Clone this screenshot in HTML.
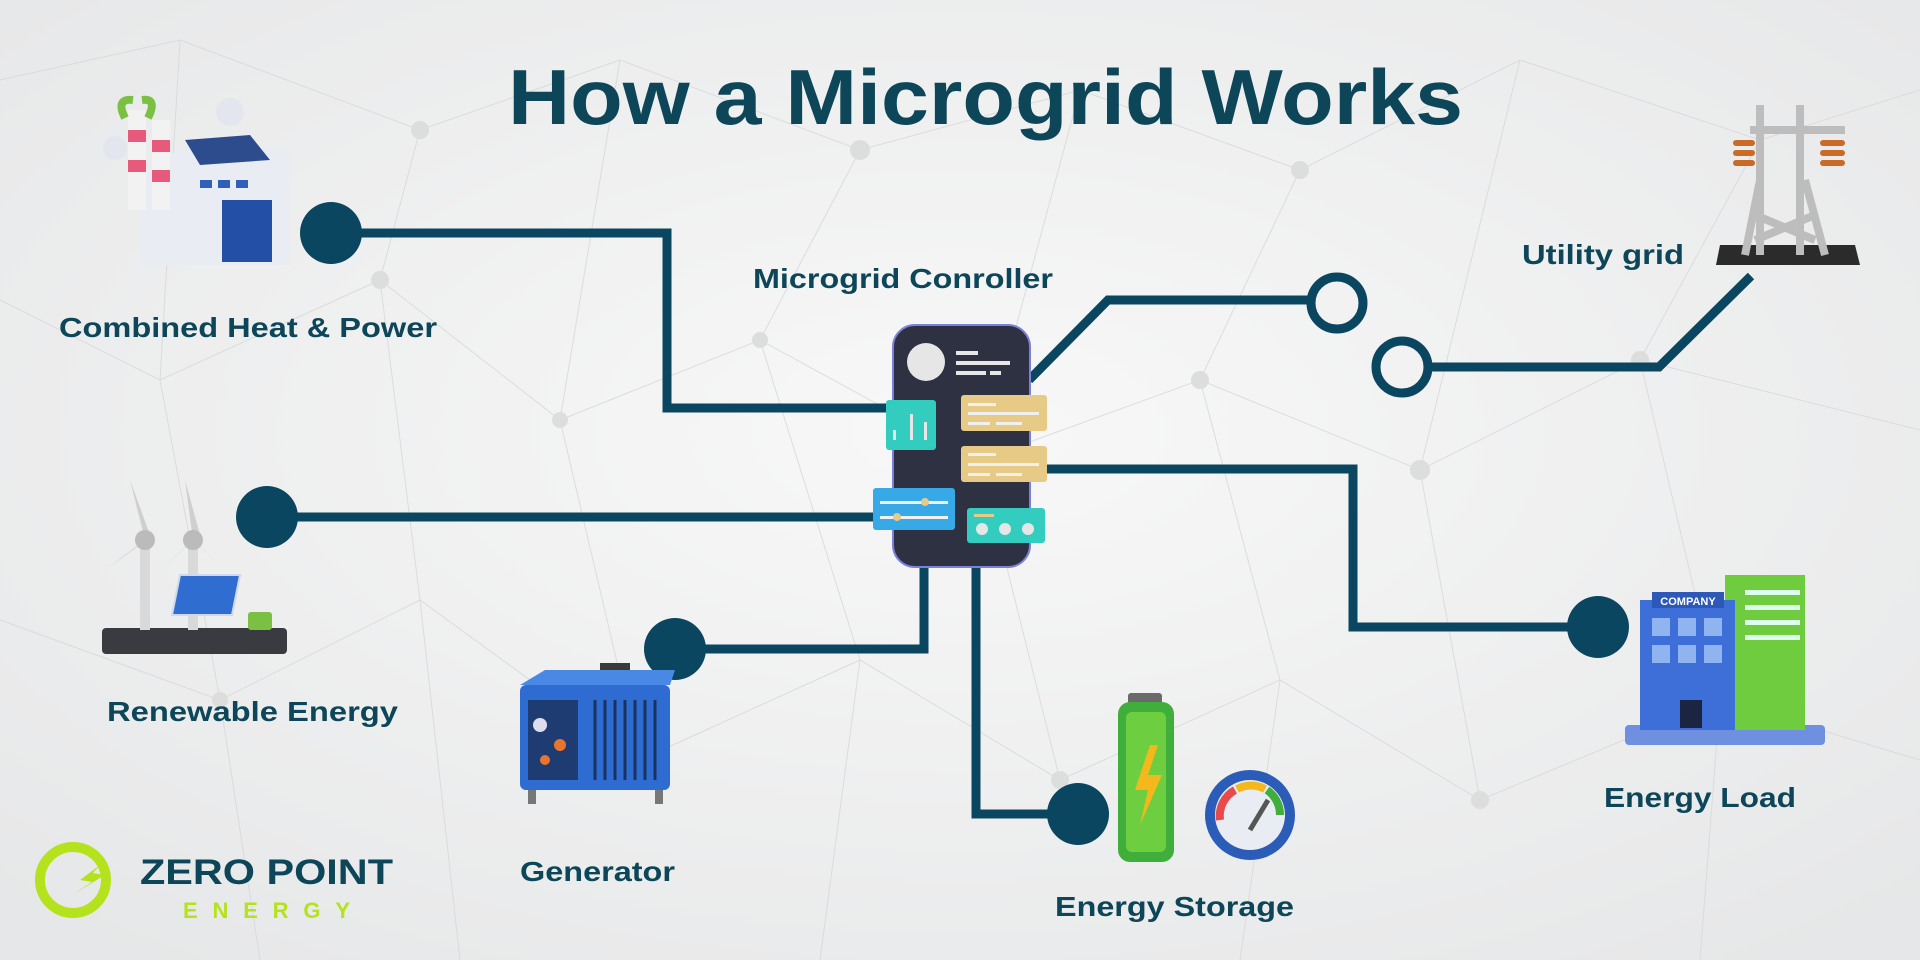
<!DOCTYPE html>
<html><head><meta charset="utf-8"><style>
html,body{margin:0;padding:0;width:1920px;height:960px;overflow:hidden;background:#eceded}
svg{display:block}
text{font-family:"Liberation Sans",sans-serif;font-weight:bold;fill:#0d4658}
</style></head><body>
<svg width="1920" height="960" viewBox="0 0 1920 960" xmlns="http://www.w3.org/2000/svg">
<defs>
<radialGradient id="bg" cx="50%" cy="45%" r="70%"><stop offset="0" stop-color="#f8f8f8"/><stop offset="1" stop-color="#e6e7e8"/></radialGradient>
</defs>
<rect width="1920" height="960" fill="url(#bg)"/>
<g stroke="#d6d7d8" stroke-width="1" fill="none" opacity="0.8">
<path d="M0 80 L180 40 L420 130 L620 60 L860 150 L1080 90 L1300 170 L1520 60 L1760 140 L1920 90"/>
<path d="M0 300 L160 380 L380 280 L560 420 L760 340 L980 460 L1200 380 L1420 470 L1640 360 L1920 430"/>
<path d="M0 620 L220 700 L420 600 L640 760 L860 660 L1060 780 L1280 680 L1480 800 L1720 700 L1920 760"/>
<path d="M180 40 L160 380 L220 700 L260 960 M420 130 L380 280 L420 600 L460 960 M860 150 L760 340 L860 660 L820 960 M1300 170 L1200 380 L1280 680 L1240 960 M1760 140 L1640 360 L1720 700 L1700 960 M620 60 L560 420 L640 760 M1080 90 L980 460 L1060 780 M1520 60 L1420 470 L1480 800"/>
</g>
<g fill="#dcdddd">
<circle cx="420" cy="130" r="9"/><circle cx="860" cy="150" r="10"/><circle cx="1300" cy="170" r="9"/><circle cx="380" cy="280" r="9"/><circle cx="980" cy="460" r="8"/><circle cx="1420" cy="470" r="10"/><circle cx="640" cy="760" r="9"/><circle cx="1060" cy="780" r="9"/><circle cx="1480" cy="800" r="9"/><circle cx="220" cy="700" r="8"/><circle cx="1640" cy="360" r="9"/><circle cx="560" cy="420" r="8"/><circle cx="1200" cy="380" r="9"/><circle cx="760" cy="340" r="8"/>
</g>

<text x="508" y="124" font-size="78" textLength="955" lengthAdjust="spacingAndGlyphs">How a Microgrid Works</text>

<g stroke="#0b4660" stroke-width="9" fill="none" stroke-linejoin="miter">
<path d="M331 233 H667 V408 H894"/>
<path d="M267 517 H894"/>
<path d="M675 649 H924 V563"/>
<path d="M976 563 V814 H1078"/>
<path d="M1047 469 H1353 V627 H1598"/>
<path d="M1029 380 L1108 300 H1310"/>
<path d="M1429 367 H1659 L1751 276"/>
</g>
<g fill="#0b4660">
<circle cx="331" cy="233" r="31"/><circle cx="267" cy="517" r="31"/><circle cx="675" cy="649" r="31"/><circle cx="1078" cy="814" r="31"/><circle cx="1598" cy="627" r="31"/>
</g>
<g fill="none" stroke="#0b4660" stroke-width="9">
<circle cx="1337" cy="303" r="26"/><circle cx="1402" cy="367" r="26"/>
</g>

<rect x="893" y="325" width="137" height="242" rx="22" fill="#2e3142" stroke="#7b80d8" stroke-width="2"/>
<circle cx="926" cy="362" r="19" fill="#e6e6e6"/>
<rect x="956" y="351" width="22" height="4" fill="#e6e6e6"/><rect x="956" y="361" width="54" height="4" fill="#e6e6e6"/><rect x="956" y="371" width="30" height="4" fill="#e6e6e6"/><rect x="990" y="371" width="11" height="4" fill="#e6e6e6"/>
<rect x="886" y="400" width="50" height="50" rx="3" fill="#33cdbf"/>
<rect x="893" y="430" width="3" height="10" fill="#e6e6e6"/><rect x="910" y="414" width="3" height="26" fill="#e6e6e6"/><rect x="924" y="422" width="3" height="18" fill="#e6e6e6"/>
<rect x="961" y="395" width="86" height="36" rx="3" fill="#e7ca86"/>
<rect x="968" y="403" width="28" height="3" fill="#f0f0f0"/><rect x="968" y="412" width="71" height="3" fill="#f0f0f0"/><rect x="968" y="422" width="22" height="3" fill="#f0f0f0"/><rect x="996" y="422" width="26" height="3" fill="#f0f0f0"/>
<rect x="961" y="446" width="86" height="36" rx="3" fill="#e7ca86"/>
<rect x="968" y="453" width="28" height="3" fill="#f0f0f0"/><rect x="968" y="463" width="71" height="3" fill="#f0f0f0"/><rect x="968" y="473" width="22" height="3" fill="#f0f0f0"/><rect x="996" y="473" width="26" height="3" fill="#f0f0f0"/>
<rect x="873" y="488" width="82" height="42" rx="3" fill="#36a9e6"/>
<rect x="880" y="501" width="68" height="3" fill="#f0f0f0"/><circle cx="925" cy="502" r="4" fill="#e7ca86"/>
<rect x="880" y="516" width="68" height="3" fill="#f0f0f0"/><circle cx="897" cy="517" r="4" fill="#e7ca86"/>
<rect x="967" y="508" width="78" height="35" rx="3" fill="#33cdbf"/>
<rect x="974" y="514" width="20" height="3" fill="#e7ca86"/>
<circle cx="982" cy="529" r="6" fill="#e6e6e6"/><circle cx="1005" cy="529" r="6" fill="#e6e6e6"/><circle cx="1028" cy="529" r="6" fill="#e6e6e6"/>

<!-- CHP factory -->
<g>
<path d="M140 170 L200 140 L290 150 L290 265 L140 265 Z" fill="#e9ecf3"/>
<path d="M185 140 L250 135 L270 160 L200 165 Z" fill="#2d4c8e"/>
<rect x="128" y="110" width="18" height="100" fill="#f2f2f2"/><rect x="128" y="130" width="18" height="12" fill="#e85a7c"/><rect x="128" y="160" width="18" height="12" fill="#e85a7c"/>
<rect x="152" y="120" width="18" height="90" fill="#f2f2f2"/><rect x="152" y="140" width="18" height="12" fill="#e85a7c"/><rect x="152" y="170" width="18" height="12" fill="#e85a7c"/>
<path d="M125 118 q-10 -20 8 -18 M148 118 q10 -20 -6 -18" stroke="#7bc043" stroke-width="8" fill="none"/>
<rect x="222" y="200" width="50" height="62" fill="#2350a6"/>
<rect x="200" y="180" width="12" height="8" fill="#2f5fb8"/><rect x="218" y="180" width="12" height="8" fill="#2f5fb8"/><rect x="236" y="180" width="12" height="8" fill="#2f5fb8"/>
<circle cx="230" cy="112" r="14" fill="#e3e6ee"/><circle cx="115" cy="148" r="12" fill="#e3e6ee"/>
</g>

<g>
<rect x="102" y="628" width="185" height="26" rx="4" fill="#3a3b40"/>
<rect x="140" y="540" width="10" height="90" fill="#d9d9d9"/><rect x="188" y="540" width="10" height="90" fill="#d9d9d9"/>
<path d="M145 540 L130 480 L150 535 Z M145 540 L105 570 L140 545 Z M145 540 L175 570 L150 545Z" fill="#cfcfcf"/>
<path d="M193 540 L185 480 L200 535 Z M193 540 L160 570 L188 545 Z M193 540 L225 570 L198 545Z" fill="#cfcfcf"/>
<circle cx="145" cy="540" r="10" fill="#bbb"/><circle cx="193" cy="540" r="10" fill="#bbb"/>
<path d="M180 575 L240 575 L232 615 L172 615 Z" fill="#2f6dd0" stroke="#cfd8ec" stroke-width="2"/>
<rect x="248" y="612" width="24" height="18" rx="3" fill="#7bc043"/>
</g>

<g>
<rect x="600" y="663" width="8" height="25" fill="#3a3a3a"/><rect x="600" y="663" width="30" height="7" fill="#3a3a3a"/><rect x="622" y="663" width="8" height="25" fill="#3a3a3a"/>
<rect x="520" y="685" width="150" height="105" rx="6" fill="#2f6cd2"/>
<path d="M520 685 L545 670 L675 670 L670 685 Z" fill="#4a88e6"/>
<rect x="528" y="700" width="50" height="80" fill="#1e3c72"/>
<circle cx="540" cy="725" r="7" fill="#dde"/><circle cx="560" cy="745" r="6" fill="#e8742e"/><circle cx="545" cy="760" r="5" fill="#e8742e"/>
<g stroke="#1a3260" stroke-width="3"><path d="M595 700 V780 M605 700 V780 M615 700 V780 M625 700 V780 M635 700 V780 M645 700 V780 M655 700 V780"/></g>
<rect x="528" y="790" width="8" height="14" fill="#777"/><rect x="655" y="790" width="8" height="14" fill="#777"/>
</g>

<g>
<rect x="1128" y="693" width="34" height="12" rx="3" fill="#6a6a6a"/>
<rect x="1118" y="702" width="56" height="160" rx="12" fill="#3fae3a"/>
<rect x="1126" y="712" width="40" height="140" rx="6" fill="#6dcf3f"/>
<path d="M1150 745 L1135 790 L1148 790 L1140 825 L1162 775 L1148 775 L1158 745 Z" fill="#f4b81c"/>
<circle cx="1250" cy="815" r="45" fill="#2b5db8"/>
<circle cx="1250" cy="815" r="35" fill="#e9ecf3"/>
<path d="M1220 820 A30 30 0 0 1 1235 790" stroke="#e84a4a" stroke-width="8" fill="none"/>
<path d="M1237 789 A30 30 0 0 1 1265 789" stroke="#f4b81c" stroke-width="8" fill="none"/>
<path d="M1267 790 A30 30 0 0 1 1280 815" stroke="#3fae3a" stroke-width="8" fill="none"/>
<path d="M1250 830 L1268 800" stroke="#555" stroke-width="5"/>
</g>

<g>
<rect x="1625" y="725" width="200" height="20" rx="4" fill="#6f8fe0"/>
<rect x="1725" y="575" width="80" height="155" fill="#6fcc3f"/>
<rect x="1745" y="590" width="55" height="5" fill="#dfe"/><rect x="1745" y="605" width="55" height="5" fill="#dfe"/><rect x="1745" y="620" width="55" height="5" fill="#dfe"/><rect x="1745" y="635" width="55" height="5" fill="#dfe"/>
<rect x="1640" y="600" width="95" height="130" fill="#3e6fd8"/>
<rect x="1652" y="592" width="72" height="16" fill="#2d58b8"/>
<text x="1688" y="605" text-anchor="middle" font-size="11" style="fill:#fff">COMPANY</text>
<g fill="#8fb4f0"><rect x="1652" y="618" width="18" height="18"/><rect x="1678" y="618" width="18" height="18"/><rect x="1704" y="618" width="18" height="18"/><rect x="1652" y="645" width="18" height="18"/><rect x="1678" y="645" width="18" height="18"/><rect x="1704" y="645" width="18" height="18"/></g>
<rect x="1680" y="700" width="22" height="28" fill="#1b2440"/>
</g>

<g>
<path d="M1720 245 L1855 245 L1860 265 L1716 265 Z" fill="#2b2b2b"/>
<g stroke="#bdbdbd" stroke-width="8" fill="none">
<path d="M1760 105 V255 M1800 105 V255 M1750 130 L1845 130 M1760 180 L1745 255 M1805 180 L1825 255 M1755 215 L1815 240 M1815 215 L1755 240"/>
</g>
<g fill="#c96a28"><rect x="1733" y="140" width="22" height="6" rx="3"/><rect x="1733" y="150" width="22" height="6" rx="3"/><rect x="1733" y="160" width="22" height="6" rx="3"/><rect x="1820" y="140" width="25" height="6" rx="3"/><rect x="1820" y="150" width="25" height="6" rx="3"/><rect x="1820" y="160" width="25" height="6" rx="3"/></g>
</g>

<g font-size="28">
<text x="59" y="337" textLength="378" lengthAdjust="spacingAndGlyphs">Combined Heat &amp; Power</text>
<text x="753" y="288" textLength="300" lengthAdjust="spacingAndGlyphs">Microgrid Conroller</text>
<text x="1522" y="264" textLength="162" lengthAdjust="spacingAndGlyphs">Utility grid</text>
<text x="107" y="721" textLength="291" lengthAdjust="spacingAndGlyphs">Renewable Energy</text>
<text x="520" y="881" textLength="155" lengthAdjust="spacingAndGlyphs">Generator</text>
<text x="1055" y="916" textLength="239" lengthAdjust="spacingAndGlyphs">Energy Storage</text>
<text x="1604" y="807" textLength="192" lengthAdjust="spacingAndGlyphs">Energy Load</text>
</g>

<g>
<circle cx="73" cy="880" r="33" fill="none" stroke="#b4e21c" stroke-width="10"/>
<path d="M100 865 L80 880 L92 882 L72 895 L105 875 L93 873 Z" fill="#b4e21c"/>
<text x="140" y="884" font-size="35" textLength="253" lengthAdjust="spacingAndGlyphs" style="fill:#0d4658">ZERO POINT</text>
<text x="183" y="918" font-size="22" textLength="167" style="fill:#b4e21c">ENERGY</text>
</g>
</svg>
</body></html>
